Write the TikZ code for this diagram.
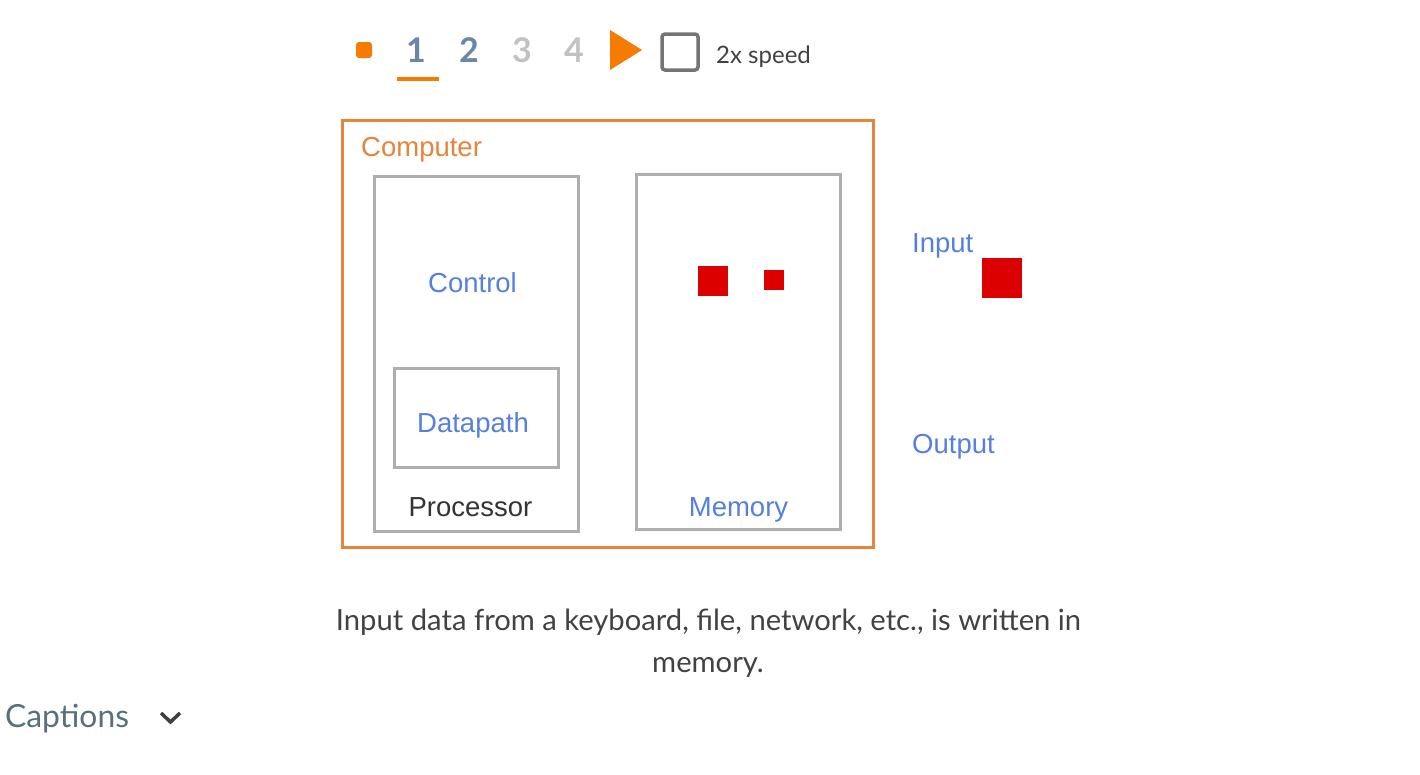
\documentclass[tikz,border=0pt]{standalone}
\usepackage{fontspec}
\setmainfont{Liberation Sans}
\newfontfamily\uifont{Lato}
\definecolor{compor}{HTML}{E8833A}
\definecolor{lblblue}{HTML}{5580DD}
\definecolor{boxgray}{HTML}{AEAEAE}
\definecolor{redsq}{HTML}{DD0000}
\definecolor{uiorange}{HTML}{F57C00}
\definecolor{numblue}{HTML}{6A87A8}
\definecolor{numgray}{HTML}{C2C2C2}
\definecolor{chkgray}{HTML}{757575}
\definecolor{capgray}{HTML}{5A6F7C}
\definecolor{textdark}{HTML}{424242}
\begin{document}
\begin{tikzpicture}[x=1pt,y=-1pt,
  lbl/.style={inner sep=0pt,font=\fontsize{27.5}{33}\selectfont},
  bluelbl/.style={lbl,text=lblblue},
  graybox/.style={draw=boxgray,line width=3pt},
  redbox/.style={fill=redsq,draw=none},
  num/.style={inner sep=0pt,anchor=base,font=\uifont\bfseries\fontsize{34}{40}\selectfont},
  captxt/.style={inner sep=0pt,anchor=base,text=textdark,font=\uifont\fontsize{29.2}{34}\selectfont}]
\useasboundingbox[fill=white] (0,0) rectangle (1420,774);
% top controls
\fill[uiorange,rounded corners=3pt] (356,42) rectangle (372,58);
\node[num,text=numblue] (n1) at (416,62) {1};
\node[num,text=numblue] (n2) at (469,62) {2};
\node[num,text=numgray] (n3) at (522,62) {3};
\node[num,text=numgray] (n4) at (574,62) {4};
\fill[uiorange] (397,77) rectangle (439,81);
\fill[uiorange] (610,30) -- (642,50) -- (610,70) -- cycle;
\draw[chkgray,line width=3.5pt,rounded corners=3pt] (662,34) rectangle (698,70);
\node[inner sep=0pt,anchor=base west,text=textdark,font=\uifont\fontsize{24}{28}\selectfont] (speed) at (716,63) {2x speed};
% computer
\draw[compor,line width=3pt] (342,120) rectangle (873,547);
\node[lbl,anchor=base west,text=compor] (comp) at (361,156) {Computer};
\draw[graybox] (374,176) rectangle (578,531);
\draw[graybox] (394,368) rectangle (558,467);
\draw[graybox] (636,174) rectangle (840,529);
\node[bluelbl,anchor=base] (ctrl) at (472.5,292) {Control};
\node[bluelbl,anchor=base] (dp) at (473,432) {Datapath};
\node[lbl,anchor=base,text=black!80] (proc) at (470.5,516) {Processor};
\node[bluelbl,anchor=base] (mem) at (738.5,516) {Memory};
\node[bluelbl,anchor=base west] (inp) at (912,252) {Input};
\node[bluelbl,anchor=base west] (outp) at (912,453) {Output};
% red squares
\fill[redsq] (698,266) rectangle (728,296);
\fill[redsq] (764,270) rectangle (784,290);
\fill[redsq] (982,258) rectangle (1022,298);
% caption
\node[captxt] (cap1) at (708.5,630) {Input data from a keyboard, file, network, etc., is written in};
\node[captxt] (cap2) at (708,672) {memory.};
\node[inner sep=0pt,anchor=base west,text=capgray,font=\uifont\fontsize{31.8}{36}\selectfont] (caps) at (5,727) {Captions};
\draw[black!75,line width=3.5pt] (161,713) -- (170.5,722) -- (180,713);
\end{tikzpicture}
\end{document}
